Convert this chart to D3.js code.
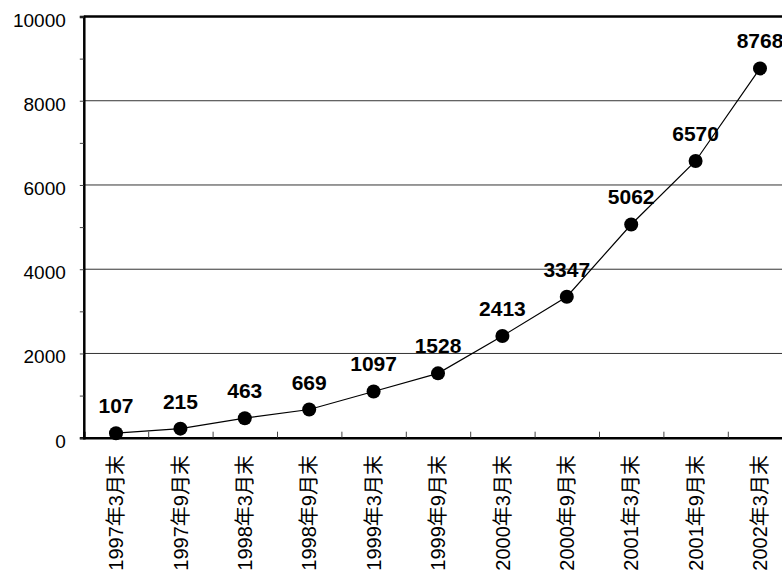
<!DOCTYPE html>
<html>
<head>
<meta charset="utf-8">
<script src="https://cdn.jsdelivr.net/npm/d3@7/dist/d3.min.js"></script>
<style>
  html, body { margin: 0; padding: 0; background: #fff; }
  svg { display: block; }
  text { font-family: "Liberation Sans", Arial, "Noto Sans CJK JP", sans-serif; fill: #000; }
</style>
</head>
<body>
<svg id="chart" width="782" height="577"></svg>
<script>
// Half-yearly totals, end of March / end of September
const categories = [
  "1997年3月末", "1997年9月末", "1998年3月末", "1998年9月末",
  "1999年3月末", "1999年9月末", "2000年3月末", "2000年9月末",
  "2001年3月末", "2001年9月末", "2002年3月末"
];
const values = [107, 215, 463, 669, 1097, 1528, 2413, 3347, 5062, 6570, 8768];
const yTicks = [0, 1000, 2000, 3000, 4000, 5000, 6000, 7000, 8000, 9000, 10000];
const gridValues = [2000, 4000, 6000, 8000];

const svg = d3.select("#chart");
const plotLeft = 83.8, bandW = 64.4;
const plotRight = plotLeft + bandW * categories.length;
const plotTop = 16.5, plotBottom = 437.7;

const x = d3.scaleBand().domain(categories).range([plotLeft, plotRight]).padding(0);
const y = d3.scaleLinear().domain([0, 10000]).range([plotBottom, plotTop]);

// horizontal gridlines
svg.append("g").selectAll("line").data(gridValues).join("line")
  .attr("x1", plotLeft).attr("x2", plotRight)
  .attr("y1", d => y(d)).attr("y2", d => y(d))
  .attr("stroke", "#333").attr("stroke-width", 1);

// top frame line
svg.append("line")
  .attr("x1", plotLeft).attr("x2", plotRight)
  .attr("y1", y(10000)).attr("y2", y(10000))
  .attr("stroke", "#000").attr("stroke-width", 2.5);

// left axis
const yAxis = d3.axisLeft(y)
  .tickValues(yTicks)
  .tickSize(4)
  .tickPadding(14)
  .tickFormat(d => d % 2000 === 0 ? String(d) : "");
const gy = svg.append("g").attr("transform", `translate(${plotLeft},0)`).call(yAxis);
gy.select(".domain").attr("stroke", "#000").attr("stroke-width", 2.5);
gy.selectAll(".tick line").attr("stroke", "#444").attr("stroke-width", 1);
gy.selectAll(".tick text")
  .attr("font-size", 19).attr("dy", "0.5em")
  .style("font-family", '"Liberation Sans", Arial, sans-serif');

// bottom axis: boundary ticks between categories
const xb = d3.scaleLinear().domain([0, categories.length]).range([plotLeft, plotRight]);
const xAxis = d3.axisBottom(xb)
  .tickValues(d3.range(1, categories.length))
  .tickSize(-6)
  .tickFormat("");
const gx = svg.append("g").attr("transform", `translate(0,${plotBottom})`).call(xAxis);
gx.select(".domain").attr("stroke", "#000").attr("stroke-width", 2.5);
gx.selectAll(".tick line").attr("stroke", "#444").attr("stroke-width", 1);

// category labels, rotated
svg.append("g").selectAll("text").data(categories).join("text")
  .attr("transform", d => `translate(${x(d) + x.bandwidth() / 2},455) rotate(-90)`)
  .attr("text-anchor", "end")
  .attr("dy", "0.36em")
  .attr("font-size", 20)
  .text(d => d);

// series line
const cx = (d, i) => x(categories[i]) + x.bandwidth() / 2;
svg.append("path")
  .datum(values)
  .attr("fill", "none").attr("stroke", "#000").attr("stroke-width", 1.2)
  .attr("d", d3.line().x(cx).y(d => y(d)));

// markers
svg.append("g").selectAll("circle").data(values).join("circle")
  .attr("cx", cx).attr("cy", d => y(d)).attr("r", 7)
  .attr("fill", "#000");

// value labels
svg.append("g").selectAll("text").data(values).join("text")
  .attr("x", cx).attr("y", d => y(d) - 20)
  .attr("text-anchor", "middle")
  .attr("font-size", 21).attr("font-weight", "bold")
  .text(d => d);
</script>
</body>
</html>
